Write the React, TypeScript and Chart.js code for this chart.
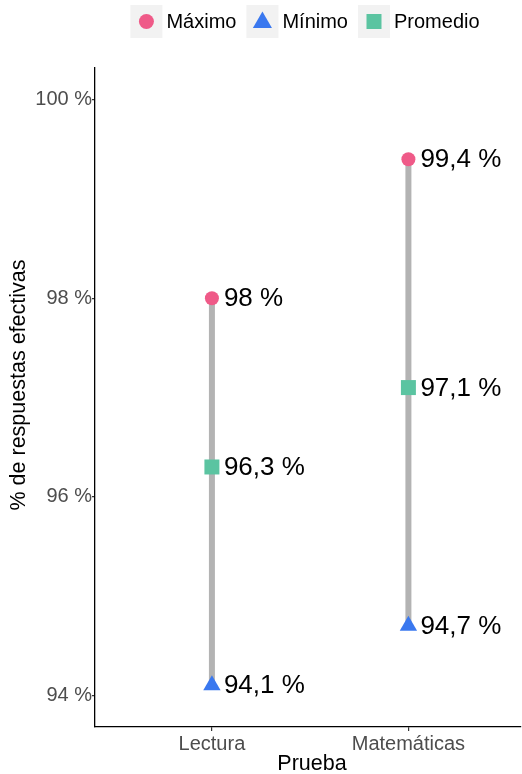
import React, { useEffect, useRef } from 'react';
import { Chart, registerables } from 'chart.js';

Chart.register(...registerables);

const categories = ['Lectura', 'Matemáticas'];
const maximo = [98, 99.4];
const minimo = [94.1, 94.7];
const promedio = [96.3, 97.1];
const yTicks = [94, 96, 98, 100];
const seriesNames = ['Máximo', 'Mínimo', 'Promedio'];
const seriesColors = ['#EF5A88', '#3A78EF', '#5BC4A1'];
const seriesShapes = ['circle', 'triangle', 'rect'];
const xTitle = 'Prueba';
const yTitle = '% de respuestas efectivas';

const FAMILY = '"Liberation Sans", Arial, Helvetica, sans-serif';

const fmt = (v: number) => String(v).replace('.', ',') + ' %';

const labelPlugin = {
  id: 'valueLabels',
  afterDatasetsDraw(chart: any) {
    const ctx = chart.ctx;
    const xs = chart.scales.x;
    const ys = chart.scales.y;
    ctx.save();
    ctx.font = `26px ${FAMILY}`;
    ctx.fillStyle = '#000000';
    ctx.textAlign = 'left';
    ctx.textBaseline = 'middle';
    const all = [maximo, minimo, promedio];
    categories.forEach((_, i) => {
      all.forEach((arr) => {
        const px = xs.getPixelForValue(i + 1);
        const py = ys.getPixelForValue(arr[i]);
        ctx.fillText(fmt(arr[i]), px + 12, py + 1);
      });
    });
    ctx.restore();
  },
};

const titlePlugin = {
  id: 'axisTitles',
  afterDraw(chart: any) {
    const ctx = chart.ctx;
    const area = chart.chartArea;
    ctx.save();
    ctx.fillStyle = '#000000';
    ctx.font = `21.5px ${FAMILY}`;
    ctx.textAlign = 'center';
    ctx.textBaseline = 'middle';
    ctx.fillText(xTitle, (area.left + area.right) / 2 + 4, 764);
    ctx.translate(19, 385);
    ctx.rotate(-Math.PI / 2);
    ctx.fillText(yTitle, 0, 0);
    ctx.restore();
  },
};

const legendPlugin = {
  id: 'ggLegend',
  afterDraw(chart: any) {
    const ctx = chart.ctx;
    ctx.save();
    ctx.font = `20px ${FAMILY}`;
    const keyW = 32;
    const keyH = 33;
    const gapText = 4;
    const gapItem = 10;
    const widths = seriesNames.map((n) => ctx.measureText(n).width);
    const total = widths.reduce((a, w) => a + keyW + gapText + w, 0) + gapItem * (seriesNames.length - 1);
    const center = (chart.chartArea.left + chart.chartArea.right) / 2 - 3;
    let x = center - total / 2;
    const top = 5;
    seriesNames.forEach((name, i) => {
      ctx.fillStyle = '#F2F2F2';
      ctx.fillRect(x, top, keyW, keyH);
      const cx = x + keyW / 2;
      const cy = top + keyH / 2;
      ctx.fillStyle = seriesColors[i];
      ctx.beginPath();
      if (seriesShapes[i] === 'circle') {
        ctx.arc(cx, cy, 7.5, 0, Math.PI * 2);
      } else if (seriesShapes[i] === 'triangle') {
        const r = 11;
        const c = cy + 1;
        ctx.moveTo(cx, c - r);
        ctx.lineTo(cx + r * Math.sin((2 * Math.PI) / 3), c - r * Math.cos((2 * Math.PI) / 3));
        ctx.lineTo(cx + r * Math.sin((4 * Math.PI) / 3), c - r * Math.cos((4 * Math.PI) / 3));
        ctx.closePath();
      } else {
        ctx.rect(cx - 7.5, cy - 7.5, 15, 15);
      }
      ctx.fill();
      ctx.fillStyle = '#000000';
      ctx.textAlign = 'left';
      ctx.textBaseline = 'middle';
      ctx.fillText(name, x + keyW + gapText, cy + 1);
      x += keyW + gapText + widths[i] + gapItem;
    });
    ctx.restore();
  },
};

export default function App() {
  const ref = useRef<HTMLCanvasElement | null>(null);

  useEffect(() => {
    if (!ref.current) return;
    const segmentSets = categories.map((_, i) => ({
      label: 'seg' + i,
      data: [
        { x: i + 1, y: minimo[i] },
        { x: i + 1, y: maximo[i] },
      ],
      showLine: true,
      borderColor: '#B3B3B3',
      borderWidth: 6,
      borderCapStyle: 'butt',
      pointRadius: 0,
      order: 5,
    }));
    const seriesData = [maximo, minimo, promedio];
    const radii = [7, 10, 10.6];
    const pointSets = seriesNames.map((name, s) => ({
      label: name,
      data: categories.map((_, i) => ({ x: i + 1, y: seriesData[s][i] })),
      pointStyle: seriesShapes[s],
      pointRadius: radii[s],
      pointBackgroundColor: seriesColors[s],
      pointBorderWidth: 0,
      borderWidth: 0,
      showLine: false,
      order: 1,
    }));

    const chart = new Chart(ref.current, {
      type: 'scatter',
      data: { datasets: [...pointSets, ...segmentSets] as any },
      options: {
        animation: false,
        responsive: false,
        maintainAspectRatio: false,
        events: [],
        layout: { autoPadding: false, padding: { top: 68, right: 1, left: 0, bottom: 0 } },
        plugins: {
          legend: { display: false },
          tooltip: { enabled: false },
        },
        scales: {
          x: {
            type: 'linear',
            min: 0.405,
            max: 2.573,
            afterBuildTicks: (s: any) => {
              s.ticks = categories.map((_, i) => ({ value: i + 1 }));
            },
            afterFit: (s: any) => {
              s.height = 47;
              s.paddingLeft = 0;
              s.paddingRight = 0;
            },
            ticks: {
              callback: (v: any) => categories[Number(v) - 1],
              font: { size: 20, family: FAMILY },
              color: '#4D4D4D',
              padding: 1,
              autoSkip: false,
              maxRotation: 0,
            },
            grid: {
              drawOnChartArea: false,
              drawTicks: true,
              tickLength: 4,
              color: '#333333',
              lineWidth: 1.2,
            },
            border: { display: true, color: '#000000', width: 1.3 },
            title: { display: false },
          },
          y: {
            type: 'linear',
            min: 93.68,
            max: 100.32,
            afterBuildTicks: (s: any) => {
              s.ticks = yTicks.map((v) => ({ value: v }));
            },
            afterFit: (s: any) => {
              s.width = 95;
              s.paddingTop = 0;
              s.paddingBottom = 0;
            },
            ticks: {
              callback: (v: any) => v + ' %',
              font: { size: 20, family: FAMILY },
              color: '#4D4D4D',
              padding: 0,
            },
            grid: {
              drawOnChartArea: false,
              drawTicks: true,
              tickLength: 3,
              color: '#333333',
              lineWidth: 1.2,
            },
            border: { display: true, color: '#000000', width: 1.3 },
            title: { display: false },
          },
        },
      } as any,
      plugins: [labelPlugin, titlePlugin, legendPlugin],
    });
    return () => chart.destroy();
  }, []);

  return (
    <div style={{ position: 'absolute', left: 0, top: 0, width: 522, height: 774, background: '#FFFFFF' }}>
      <canvas ref={ref} width={522} height={774} style={{ display: 'block', width: 522, height: 774 }} />
    </div>
  );
}
